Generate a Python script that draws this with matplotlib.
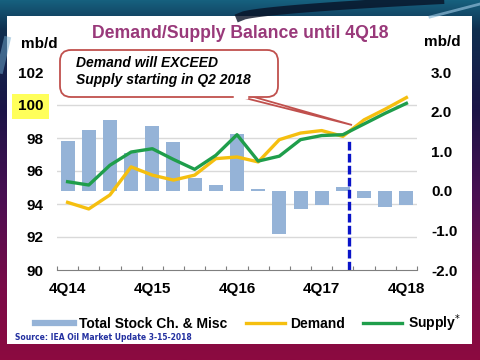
import numpy as np
import matplotlib
matplotlib.use("Agg")
import matplotlib.pyplot as plt
from matplotlib.colors import LinearSegmentedColormap
from matplotlib.patches import Rectangle, FancyBboxPatch, Polygon
from matplotlib.lines import Line2D

plt.rcParams['font.family'] = ['Liberation Sans', 'DejaVu Sans']

# data
quarters = ['4Q14', '1Q15', '2Q15', '3Q15', '4Q15', '1Q16', '2Q16', '3Q16', '4Q16',
            '1Q17', '2Q17', '3Q17', '4Q17', '1Q18', '2Q18', '3Q18', '4Q18']
stock = [1.26, 1.53, 1.79, 0.96, 1.64, 1.24, 0.32, 0.15, 1.43,
         0.05, -1.08, -0.45, -0.36, 0.10, -0.19, -0.41, -0.37]
demand = [94.1, 93.7, 94.55, 96.25, 95.75, 95.45, 95.75, 96.75, 96.85,
          96.55, 97.9, 98.3, 98.45, 98.1, 99.1, 99.75, 100.45]
supply = [95.35, 95.15, 96.35, 97.15, 97.35, 96.7, 96.1, 96.95, 98.2,
          96.6, 96.9, 97.9, 98.15, 98.2, 98.85, 99.5, 100.1]
left_ticks = [90, 92, 94, 96, 98, 100, 102]
right_ticks = [-2.0, -1.0, 0.0, 1.0, 2.0, 3.0]
crossover = 13.3   # dashed marker position (category units)

bar_col = '#95b3d7'
dem_col = '#f5bf0f'
sup_col = '#1f9e4b'

fig = plt.figure(figsize=(4.8, 3.6), dpi=100)

# slide background in pixel coords
bg = fig.add_axes([0, 0, 1, 1], zorder=0)
bg.set_xlim(0, 480)
bg.set_ylim(360, 0)
bg.axis('off')
cmap = LinearSegmentedColormap.from_list(
    'slide', [(0, '#16607e'), (0.08, '#0f2f4f'), (0.3, '#1a1446'),
              (0.55, '#4a0f52'), (0.8, '#7a0b48'), (1, '#8c0a40')])
grad = np.linspace(0, 1, 256).reshape(-1, 1)
bg.imshow(grad, cmap=cmap, aspect='auto', extent=[0, 480, 360, 0])
t = np.linspace(0, 1, 50)
bg.plot(240 + 200 * t, 17 - 17 * t ** 0.6, color='#081226', lw=6, alpha=0.8)
bg.plot(430 + 50 * t, 17 - 13 * t, color='#8fbcd8', lw=2, alpha=0.7)
bg.plot(0 + 7 * t, 70 - 30 * t, color='#6fa8cc', lw=5, alpha=0.5)
bg.add_patch(Rectangle((7, 16), 465, 328, facecolor='white', edgecolor='none'))

# chart axes
ax = fig.add_axes([57 / 480, 90 / 360, 360 / 480, 198 / 360], zorder=2)
ax2 = ax.twinx()
ax2.set_zorder(1)
ax.set_zorder(3)
ax.patch.set_visible(False)
ax2.patch.set_visible(False)

x = np.arange(len(quarters))
ax2.bar(x, stock, width=0.66, color=bar_col, zorder=2)
ax2.set_ylim(-2, 3)
ax2.set_yticks(right_ticks, labels=['%.1f' % v for v in right_ticks])
conv = [(v - 90) * 5 / 12 - 2 for v in left_ticks]
ax2.set_yticks(conv, minor=True)
ax2.grid(which='minor', axis='y', color='#d9d9d9', lw=1)
ax2.set_axisbelow(True)
ax2.tick_params(axis='y', which='both', length=0, pad=10, labelsize=11)
for lbl in ax2.get_yticklabels():
    lbl.set_fontweight('bold')

ax.plot(x, demand, color=dem_col, lw=2.4, solid_joinstyle='round')
ax.plot(x, supply, color=sup_col, lw=2.4, solid_joinstyle='round')
ax.vlines(crossover, 90, 97.8, colors='#0a14c8', lw=2.4, linestyles=(0, (2.6, 1.0)))

ax.set_ylim(90, 102)
ax.set_yticks(left_ticks, labels=[str(v) for v in left_ticks])
ax.tick_params(axis='y', length=0, pad=10, labelsize=11)
for lbl in ax.get_yticklabels():
    lbl.set_fontweight('bold')
    if lbl.get_text() == '100':
        lbl.set_bbox(dict(facecolor='#ffff5a', edgecolor='none', pad=4))

ax.set_xlim(-0.5, 16.5)
ax.set_xticks(np.arange(-0.5, 17, 1), labels=[''] * 18)
ax.set_xticks(x[::4], labels=quarters[::4], minor=True)
ax.tick_params(axis='x', which='major', direction='in', length=3, color='#7f7f7f')
ax.tick_params(axis='x', which='minor', length=0, pad=9, labelsize=11)
for lbl in ax.get_xticklabels(minor=True):
    lbl.set_fontweight('bold')

for a in (ax, ax2):
    for s in a.spines.values():
        s.set_visible(False)
ax.spines['bottom'].set_visible(True)
ax.spines['bottom'].set_color('#7f7f7f')

# overlay for title, callout, legend
ov = fig.add_axes([0, 0, 1, 1], zorder=5)
ov.set_xlim(0, 480)
ov.set_ylim(360, 0)
ov.axis('off')

ov.text(240, 33, 'Demand/Supply Balance until 4Q18', ha='center', va='center',
        fontsize=12.7, fontweight='bold', color='#99397a')
ov.text(39, 44, 'mb/d', ha='center', va='center', fontsize=11, fontweight='bold')
ov.text(442, 42, 'mb/d', ha='center', va='center', fontsize=11, fontweight='bold')

red = '#c0504d'
ov.add_patch(Polygon([(233, 95), (352, 125), (247, 95)], closed=True,
                     facecolor='white', edgecolor=red, lw=1.3, zorder=1))
ov.add_patch(FancyBboxPatch((60, 50), 218, 47, boxstyle='round,pad=0,rounding_size=11',
                            facecolor='white', edgecolor=red, lw=1.3, zorder=2))
ov.plot([234.5, 245.5], [97, 97], color='white', lw=2.5, zorder=3)
ov.text(76, 56, 'Demand will EXCEED\nSupply starting in Q2 2018', ha='left', va='top',
        fontsize=10, fontweight='bold', fontstyle='italic', linespacing=1.28, zorder=4)

handles = [Line2D([], [], color=bar_col, lw=4.5),
           Line2D([], [], color=dem_col, lw=2.4),
           Line2D([], [], color=sup_col, lw=2.4)]
leg = ov.legend(handles, ['Total Stock Ch. & Misc', 'Demand', r'Supply$^{*}$'], ncol=3,
                loc='center', bbox_to_anchor=(0.516, 1 - 323 / 360), frameon=False,
                prop={'size': 10, 'weight': 'bold'}, handlelength=2.8,
                handletextpad=0.4, columnspacing=1.3, borderpad=0)

ov.text(15, 338, 'Source: IEA Oil Market Update 3-15-2018', ha='left', va='center',
        fontsize=5.5, fontweight='bold', color='#2330a0', family='DejaVu Sans')

fig.savefig('out.png', dpi=100)
